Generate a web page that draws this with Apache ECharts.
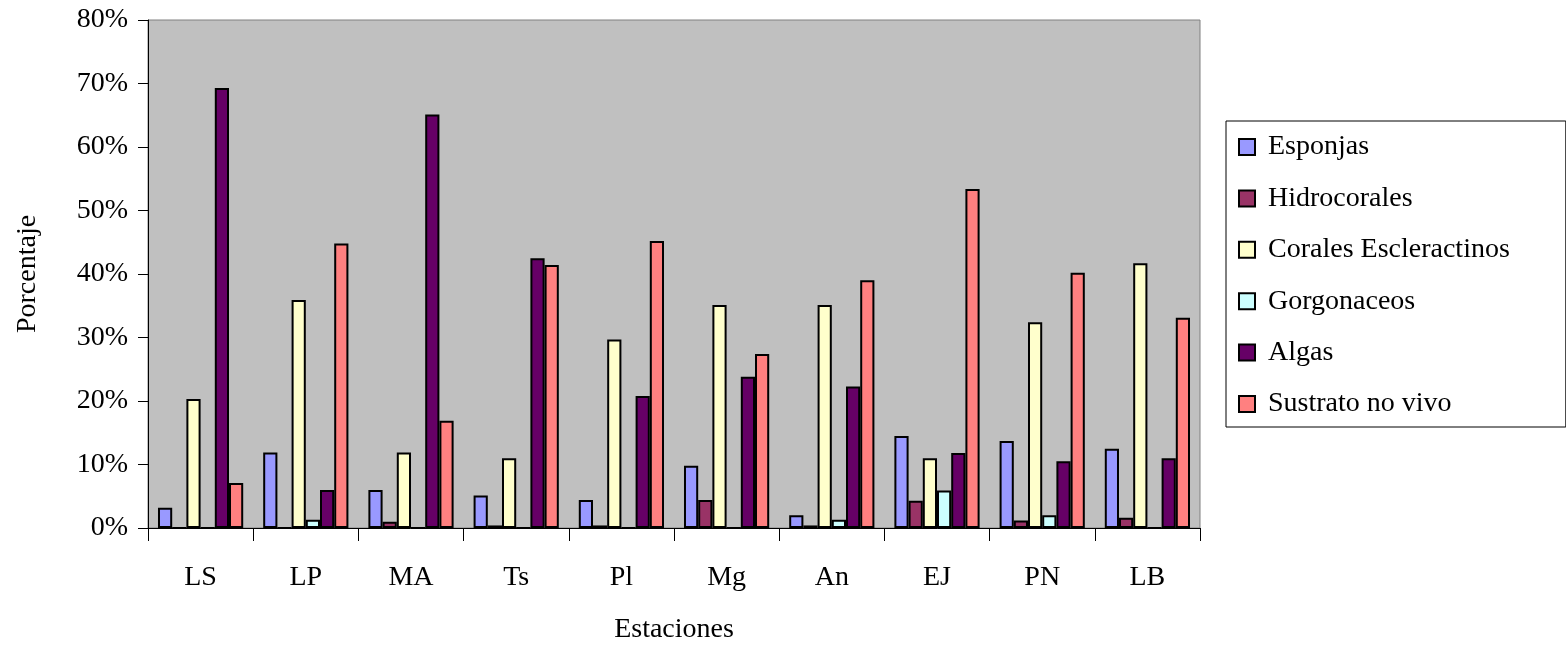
<!DOCTYPE html>
<html>
<head>
<meta charset="utf-8">
<script src="https://cdn.jsdelivr.net/npm/echarts@6/dist/echarts.min.js"></script>
<style>
  html, body { margin: 0; padding: 0; background: #ffffff; }
  #chart { width: 1566px; height: 650px; }
</style>
</head>
<body>
<div id="chart"></div>
<script>
// Cobertura por grupo bentónico en cada estación (porcentaje)
const categories   = ['LS', 'LP', 'MA', 'Ts', 'Pl', 'Mg', 'An', 'EJ', 'PN', 'LB'];
const esponjas     = [3.2, 11.9, 6.0, 5.1, 4.4, 9.8, 2.0, 14.5, 13.7, 12.5];
const hidrocorales = [0, 0, 1.0, 0.4, 0.4, 4.4, 0.4, 4.3, 1.2, 1.6];
const corales      = [20.3, 35.9, 11.9, 11.0, 29.7, 35.1, 35.1, 11.0, 32.4, 41.7];
const gorgonaceos  = [0, 1.3, 0, 0, 0, 0, 1.3, 5.9, 2.0, 0];
const algas        = [69.3, 6.0, 65.1, 42.5, 20.8, 23.8, 22.3, 11.8, 10.5, 11.0];
const sustrato     = [7.1, 44.8, 16.9, 41.4, 45.2, 27.4, 39.0, 53.4, 40.2, 33.1];

const seriesNames  = ['Esponjas', 'Hidrocorales', 'Corales Escleractinos', 'Gorgonaceos', 'Algas', 'Sustrato no vivo'];
const seriesData   = [esponjas, hidrocorales, corales, gorgonaceos, algas, sustrato];
const seriesColors = ['#9999FF', '#993366', '#FFFFCC', '#CCFFFF', '#660066', '#FF8080'];

const FONT = "'Liberation Serif', 'Times New Roman', serif";
const FS = 28;

const chart = echarts.init(document.getElementById('chart'), null, { renderer: 'canvas' });

chart.setOption({
  animation: false,
  backgroundColor: '#ffffff',
  textStyle: { fontFamily: FONT, color: '#000' },
  grid: {
    left: 148, right: 366, top: 20, bottom: 122,
    show: true, backgroundColor: '#C0C0C0', borderColor: '#808080', borderWidth: 1
  },
  legend: {
    orient: 'vertical',
    left: 1226, top: 121,
    padding: [11, 56, 8, 12],
    itemWidth: 16, itemHeight: 16, itemGap: 21.4,
    backgroundColor: '#ffffff',
    borderColor: '#000000', borderWidth: 1, borderRadius: 0,
    icon: 'rect',
    textStyle: { fontFamily: FONT, fontSize: FS, color: '#000', lineHeight: 30, padding: [0, 0, 0, 8] },
    data: seriesNames
  },
  xAxis: {
    type: 'category',
    data: categories,
    name: 'Estaciones',
    nameLocation: 'middle',
    nameGap: 88,
    nameTextStyle: { fontFamily: FONT, fontSize: FS, color: '#000' },
    axisLine: { lineStyle: { color: '#000', width: 1 } },
    axisTick: { show: true, length: 13, alignWithLabel: false, lineStyle: { color: '#000' } },
    axisLabel: { fontFamily: FONT, fontSize: FS, color: '#000', margin: 36 }
  },
  yAxis: {
    type: 'value',
    min: 0, max: 80, interval: 10,
    name: 'Porcentaje',
    nameLocation: 'middle',
    nameGap: 106,
    nameTextStyle: { fontFamily: FONT, fontSize: FS, color: '#000' },
    axisLine: { show: true, lineStyle: { color: '#000', width: 1 } },
    axisTick: { show: true, length: 10, lineStyle: { color: '#000' } },
    splitLine: { show: false },
    axisLabel: { fontFamily: FONT, fontSize: FS, color: '#000', margin: 20, formatter: v => v + '%' }
  },
  series: seriesNames.map((name, i) => ({
    name,
    type: 'bar',
    data: seriesData[i],
    barGap: '0%',
    barCategoryGap: '19%',
    itemStyle: { color: seriesColors[i], borderColor: '#000', borderWidth: 2 }
  }))
});
</script>
</body>
</html>
